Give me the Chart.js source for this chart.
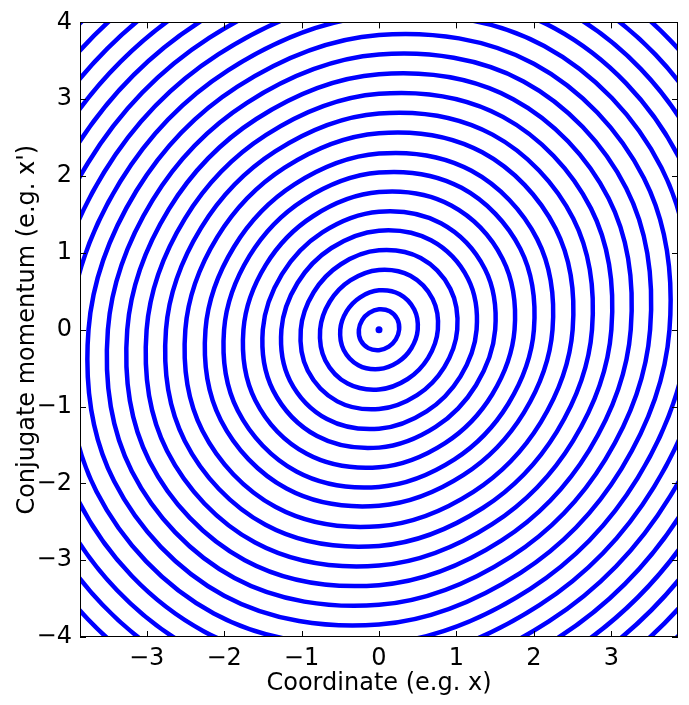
<!DOCTYPE html>
<html>
<head>
<meta charset="utf-8">
<script src="https://cdn.jsdelivr.net/npm/chart.js@4"></script>
<style>
  html, body { margin: 0; padding: 0; background: #ffffff; }
  #wrap { width: 689px; height: 705px; position: relative; }
</style>
</head>
<body>
<div id="wrap"><canvas id="c" width="689" height="705"></canvas></div>
<script>
// Tick labels
const xTicks = [-3, -2, -1, 0, 1, 2, 3];
const yTicks = [-4, -3, -2, -1, 0, 1, 2, 3, 4];

// Ring radii (phase-space units) read along directions 0°,30°,60°,90°,120°,150°
// (opposite directions are point-symmetric)
const r0   = [0.26, 0.50, 0.76, 1.01, 1.26, 1.50, 1.75, 2.00, 2.24, 2.50, 2.75, 3.00, 3.25, 3.50, 3.75, 4.00, 4.25, 4.50, 4.75, 5.00, 5.25, 5.50, 5.75];
const r30  = [0.274, 0.526, 0.800, 1.063, 1.327, 1.579, 1.843, 2.106, 2.358, 2.632, 2.895, 3.159, 3.422, 3.685, 3.948, 4.212, 4.475, 4.738, 5.001, 5.265, 5.528, 5.791, 6.054];
const r60  = [0.277, 0.533, 0.810, 1.077, 1.343, 1.599, 1.866, 2.132, 2.388, 2.666, 2.932, 3.199, 3.465, 3.732, 3.998, 4.265, 4.531, 4.798, 5.064, 5.331, 5.598, 5.864, 6.131];
const r90  = [0.266, 0.512, 0.778, 1.033, 1.289, 1.535, 1.791, 2.046, 2.292, 2.558, 2.814, 3.070, 3.325, 3.581, 3.837, 4.093, 4.349, 4.604, 4.860, 5.116, 5.372, 5.628, 5.883];
const r120 = [0.253, 0.487, 0.741, 0.984, 1.228, 1.462, 1.705, 1.949, 2.183, 2.436, 2.680, 2.923, 3.167, 3.410, 3.654, 3.898, 4.141, 4.385, 4.628, 4.872, 5.116, 5.359, 5.603];
const r150 = [0.251, 0.482, 0.733, 0.974, 1.215, 1.446, 1.687, 1.928, 2.160, 2.411, 2.652, 2.893, 3.134, 3.375, 3.616, 3.857, 4.098, 4.339, 4.580, 4.821, 5.062, 5.303, 5.544];
const dirs = [0, 30, 60, 90, 120, 150];

// Fixed point at the centre
const centre = [{x: 0, y: 0}];

const BLUE = '#0000ff';
const FONT = "'DejaVu Sans', 'Liberation Sans', sans-serif";

function ringPoints(i) {
  const radii = [r0[i], r30[i], r60[i], r90[i], r120[i], r150[i]];
  const pts = [];
  for (let h = 0; h < 2; h++) {
    for (let j = 0; j < 6; j++) {
      const ang = (dirs[j] + 180 * h) * Math.PI / 180;
      pts.push({x: radii[j] * Math.cos(ang), y: radii[j] * Math.sin(ang)});
    }
  }
  // wrap with neighbours so the closed curve gets smooth tangents everywhere
  return [pts[11], ...pts, pts[0], pts[1]];
}

const datasets = r0.map((_, i) => ({
  data: ringPoints(i),
  showLine: true,
  borderColor: BLUE,
  borderWidth: 4.5,
  pointRadius: 0,
  pointHoverRadius: 0,
  tension: 0.351,
  clip: 0,
  segment: {
    borderColor: ctx => (ctx.p0DataIndex === 0 || ctx.p0DataIndex === 13) ? 'rgba(0,0,0,0)' : BLUE
  }
}));
datasets.push({
  data: centre,
  showLine: false,
  pointRadius: 3.5,
  pointBackgroundColor: BLUE,
  pointBorderWidth: 0,
  clip: 0
});

const frameTicks = {
  id: 'frameTicks',
  afterDatasetsDraw(chart) {
    const {ctx, chartArea: a, scales: {x, y}} = chart;
    const L = 6;
    ctx.save();
    ctx.strokeStyle = '#000';
    ctx.lineWidth = 1;
    ctx.beginPath();
    xTicks.forEach(v => {
      const px = Math.round(x.getPixelForValue(v)) + 0.5;
      ctx.moveTo(px, a.top); ctx.lineTo(px, a.top + L);
      ctx.moveTo(px, a.bottom); ctx.lineTo(px, a.bottom - L);
    });
    yTicks.forEach(v => {
      const py = Math.round(y.getPixelForValue(v)) + 0.5;
      ctx.moveTo(a.left, py); ctx.lineTo(a.left + L, py);
      ctx.moveTo(a.right, py); ctx.lineTo(a.right - L, py);
    });
    ctx.stroke();
    ctx.strokeRect(Math.round(a.left) + 0.5, Math.round(a.top) + 0.5,
                   Math.round(a.right - a.left) - 1, Math.round(a.bottom - a.top) - 1);
    ctx.restore();
  }
};

new Chart(document.getElementById('c'), {
  type: 'scatter',
  data: {datasets},
  options: {
    responsive: false,
    animation: false,
    events: [],
    layout: {padding: {left: 0, right: 11, top: 18, bottom: 0}},
    elements: {line: {capBezierPoints: false}},
    plugins: {legend: {display: false}, tooltip: {enabled: false}},
    scales: {
      x: {
        type: 'linear', min: -3.86, max: 3.86,
        afterBuildTicks: s => { s.ticks = xTicks.map(v => ({value: v})); },
        afterFit: s => { s.height = 68; },
        grid: {display: false, drawTicks: false},
        border: {display: false},
        ticks: {
          color: '#000', padding: 7, maxRotation: 0, autoSkip: false,
          font: {family: FONT, size: 24},
          callback: v => (v < 0 ? '\u2212' + Math.abs(v) : String(v))
        },
        title: {display: true, text: 'Coordinate (e.g. x)', color: '#000',
                font: {family: FONT, size: 24}, padding: {top: 0, bottom: 7}}
      },
      y: {
        type: 'linear', min: -4, max: 4,
        afterBuildTicks: s => { s.ticks = yTicks.map(v => ({value: v})); },
        afterFit: s => { s.width = 80; },
        grid: {display: false, drawTicks: false},
        border: {display: false},
        ticks: {
          color: '#000', padding: 8, autoSkip: false,
          font: {family: FONT, size: 24},
          callback: v => (v < 0 ? '\u2212' + Math.abs(v) : String(v))
        },
        title: {display: true, text: "Conjugate momentum (e.g. x')", color: '#000',
                font: {family: FONT, size: 24}, padding: {top: 13, bottom: 0}}
      }
    }
  },
  plugins: [frameTicks]
});
</script>
</body>
</html>
